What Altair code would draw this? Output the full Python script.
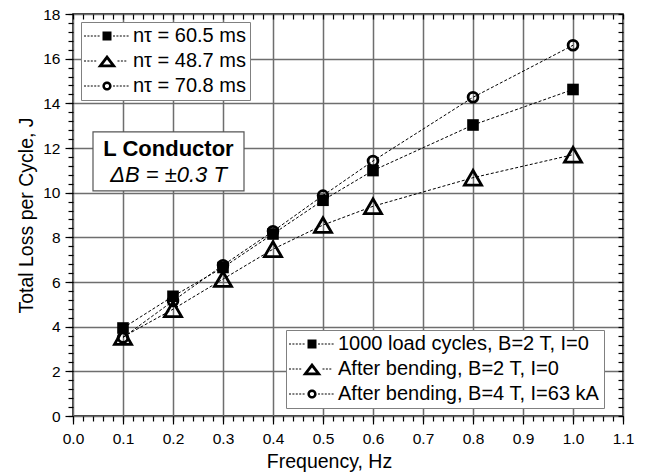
import math
import altair as alt
import pandas as pd

# ---------------- data ----------------
freq = [0.1, 0.2, 0.3, 0.4, 0.5, 0.6, 0.8, 1.0]
loss_load_cycles = [3.94, 5.36, 6.65, 8.15, 9.66, 10.99, 13.03, 14.62]
loss_bend_2T = [3.54, 4.78, 6.13, 7.47, 8.55, 9.39, 10.67, 11.70]
loss_bend_4T = [3.51, 5.15, 6.75, 8.27, 9.87, 11.42, 14.27, 16.60]

series_labels = ["1000 load cycles, B=2 T, I=0",
                 "After bending, B=2 T, I=0",
                 "After bending, B=4 T, I=63 kA"]
tau_labels = ["nτ = 60.5 ms", "nτ = 48.7 ms", "nτ = 70.8 ms"]

x_major = [round(0.1 * i, 1) for i in range(12)]
x_minor = [round(0.02 * i, 2) for i in range(56)]
y_major = list(range(0, 19, 2))
y_minor = [round(0.4 * i, 1) for i in range(46)]

note_lines = ["L Conductor", "ΔB = ±0.3 T"]
note_box_x = [0.04, 0.342]
note_box_y = [10.08, 12.72]
note_text_x = [0.191, 0.191]
note_text_y = [11.66, 10.47]

FONT = "Liberation Sans"

rows = []
for s, t, vals in zip(series_labels, tau_labels, [loss_load_cycles, loss_bend_2T, loss_bend_4T]):
    for f, v in zip(freq, vals):
        rows.append({"freq": f, "loss": v, "series": s, "tau": t})
df = pd.DataFrame(rows)

XS = alt.Scale(domain=[0, 1.1], nice=False, zero=False)
YS = alt.Scale(domain=[0, 18], nice=False, zero=False)


def X(field="freq", axis=None):
    return alt.X(f"{field}:Q", scale=XS, axis=axis)


def Y(field="loss", axis=None):
    return alt.Y(f"{field}:Q", scale=YS, axis=axis)


# ---------------- legend symbol paths (line + marker) ----------------
def dashes(x0, x1):
    s, x = "", x0
    while x + 2 <= x1 + 0.01:
        s += f"M{x:.2f},-0.5h2v1h-2z"
        x += 3.4
    return s


def tri_ring(cx, w, h, t):
    top, br, bl = (cx, -h / 2), (cx + w / 2, h / 2), (cx - w / 2, h / 2)
    P = w + 2 * math.hypot(w / 2, h)
    r = (w * h) / P
    inc = (cx, h / 2 - r)
    k = (r - t) / r
    inn = [(inc[0] + k * (v[0] - inc[0]), inc[1] + k * (v[1] - inc[1])) for v in (top, br, bl)]
    p = f"M{top[0]:.2f},{top[1]:.2f}L{br[0]:.2f},{br[1]:.2f}L{bl[0]:.2f},{bl[1]:.2f}Z"
    p += f"M{inn[0][0]:.2f},{inn[0][1]:.2f}L{inn[2][0]:.2f},{inn[2][1]:.2f}L{inn[1][0]:.2f},{inn[1][1]:.2f}Z"
    return p


def circ_ring(cx, R, r):
    p = f"M{cx + R:.2f},0A{R},{R} 0 1,1 {cx - R:.2f},0A{R},{R} 0 1,1 {cx + R:.2f},0Z"
    p += f"M{cx + r:.2f},0A{r},{r} 0 1,0 {cx - r:.2f},0A{r},{r} 0 1,0 {cx + r:.2f},0Z"
    return p


L0, R0 = -11, 34   # glyph extent relative to the legend symbol anchor
C = 12             # marker centre
sq_path = dashes(L0, C - 5.5) + f"M{C - 4.5},-4.5h9v9h-9z" + dashes(C + 6, R0)
tri_path = dashes(L0, C - 10) + tri_ring(C, 19, 12.5, 2.8) + dashes(C + 10.5, R0)
cir_path = dashes(L0, C - 5.5) + circ_ring(C, 4.6, 2.1) + dashes(C + 6, R0)
legend_shapes = [sq_path, tri_path, cir_path]

# ---------------- annotation box ----------------
box_df = pd.DataFrame({"x0": [note_box_x[0]], "x1": [note_box_x[1]],
                       "y0": [note_box_y[0]], "y1": [note_box_y[1]]})
note_box = alt.Chart(box_df).mark_rect(fill="white", stroke="#555555", strokeWidth=1.2).encode(
    x=X("x0"), x2="x1", y=Y("y0"), y2="y1")
note_df = pd.DataFrame({"x": note_text_x, "y": note_text_y, "t": note_lines})
note1 = alt.Chart(note_df.iloc[[0]]).mark_text(font=FONT, fontSize=22, fontWeight="bold",
                                               baseline="alphabetic", align="center", color="black").encode(
    x=X("x"), y=Y("y"), text="t:N")
note2 = alt.Chart(note_df.iloc[[1]]).mark_text(font=FONT, fontSize=22, fontStyle="italic",
                                               baseline="alphabetic", align="center", color="black").encode(
    x=X("x"), y=Y("y"), text="t:N")

# ---------------- data marks ----------------
lines = alt.Chart(df).mark_line(color="black", strokeWidth=1, strokeDash=[3, 2]).encode(
    x=X(), y=Y(), detail="series:N")

pt_sq = alt.Chart(df).transform_filter(alt.datum.series == series_labels[0]).mark_point(
    shape="square", filled=True, color="black", size=135, opacity=1).encode(x=X(), y=Y())
pt_tri = alt.Chart(df).transform_filter(alt.datum.series == series_labels[1]).mark_point(
    shape="triangle-up", filled=False, stroke="black", strokeWidth=2.8, size=290, opacity=1).encode(x=X(), y=Y())
pt_cir = alt.Chart(df).transform_filter(alt.datum.series == series_labels[2]).mark_point(
    shape="circle", filled=False, stroke="black", strokeWidth=2.8, size=95, opacity=1).encode(x=X(), y=Y())


# ---------------- legends ----------------
def legend_layer(field, labels, lx, ly, fs):
    return alt.Chart(df).transform_filter("false").mark_point(
        filled=True, color="black", strokeWidth=0, opacity=1).encode(
        shape=alt.Shape(f"{field}:N",
                        scale=alt.Scale(domain=labels, range=legend_shapes),
                        legend=alt.Legend(title=None, orient="none", legendX=lx, legendY=ly,
                                          symbolSize=4, symbolStrokeWidth=0, symbolFillColor="black",
                                          symbolStrokeColor="black", symbolOpacity=1,
                                          labelFont=FONT, labelFontSize=fs, labelColor="black",
                                          labelLimit=600, labelOffset=28, padding=4, rowPadding=5,
                                          fillColor="white", strokeColor="#808080")))


leg_top = legend_layer("tau", tau_labels, 8, 8, 20)
leg_bot = legend_layer("series", series_labels, 213, 316, 20)

# ---------------- axes ----------------
GRID = "#6e6e6e"
ax_main = alt.Chart(df).mark_point(opacity=0, size=0).encode(
    x=X(axis=alt.Axis(orient="bottom", values=x_major, format=".1f", tickSize=8, tickWidth=1.2,
                      tickColor="black", labelPadding=7, labelFontSize=15.5, labelFont=FONT,
                      labelColor="black", labelFlush=False, grid=True, gridColor=GRID, gridWidth=1.5,
                      domain=False, title="Frequency, Hz", titleFont=FONT, titleFontSize=19.5,
                      titleFontWeight="normal", titleColor="black", titleX=256, titleY=51.5,
                      titleBaseline="alphabetic", titleAlign="center")),
    y=Y(axis=alt.Axis(orient="left", values=y_major, format="d", tickSize=8, tickWidth=1.2,
                      tickColor="black", labelPadding=5, labelFontSize=15.5, labelFont=FONT,
                      labelColor="black", labelFlush=False, grid=True, gridColor=GRID, gridWidth=1.5,
                      domain=False, title="Total Loss per Cycle, J", titleFont=FONT,
                      titleFontSize=19.5, titleFontWeight="normal", titleColor="black",
                      titleAngle=270, titleX=-41, titleY=201, titleBaseline="alphabetic",
                      titleAlign="center")))

ax_minor = alt.Chart(df).mark_point(opacity=0, size=0).encode(
    x=X(axis=alt.Axis(orient="bottom", values=x_minor, tickSize=5, tickWidth=1.2, tickColor="black",
                      labels=False, grid=False, domain=False, title=None)),
    y=Y(axis=alt.Axis(orient="left", values=y_minor, tickSize=5, tickWidth=1.2, tickColor="black",
                      labels=False, grid=False, domain=False, title=None)))

ax_inner = alt.Chart(df).mark_point(opacity=0, size=0).encode(
    x=X(axis=alt.Axis(orient="top", values=x_minor, tickSize=5, offset=-5, tickWidth=1.2,
                      tickColor="black", labels=False, grid=False, domain=False, title=None)),
    y=Y(axis=alt.Axis(orient="right", values=y_minor, tickSize=5, offset=-5, tickWidth=1.2,
                      tickColor="black", labels=False, grid=False, domain=False, title=None)))

chart = alt.layer(
    ax_main, ax_minor, ax_inner,
    note_box, note1, note2,
    lines, pt_sq, pt_tri, pt_cir,
    leg_top, leg_bot,
).resolve_scale(shape="independent").resolve_legend(shape="independent").resolve_axis(
    x="independent", y="independent"
).properties(
    width=550, height=402,
    padding={"left": 73, "top": 14, "right": 22, "bottom": 60},
    autosize=alt.AutoSizeParams(type="none"),
    background="white",
).configure_view(stroke="black", strokeWidth=1.5)

chart.save("out.html", embed_options={"renderer": "svg", "actions": False})
